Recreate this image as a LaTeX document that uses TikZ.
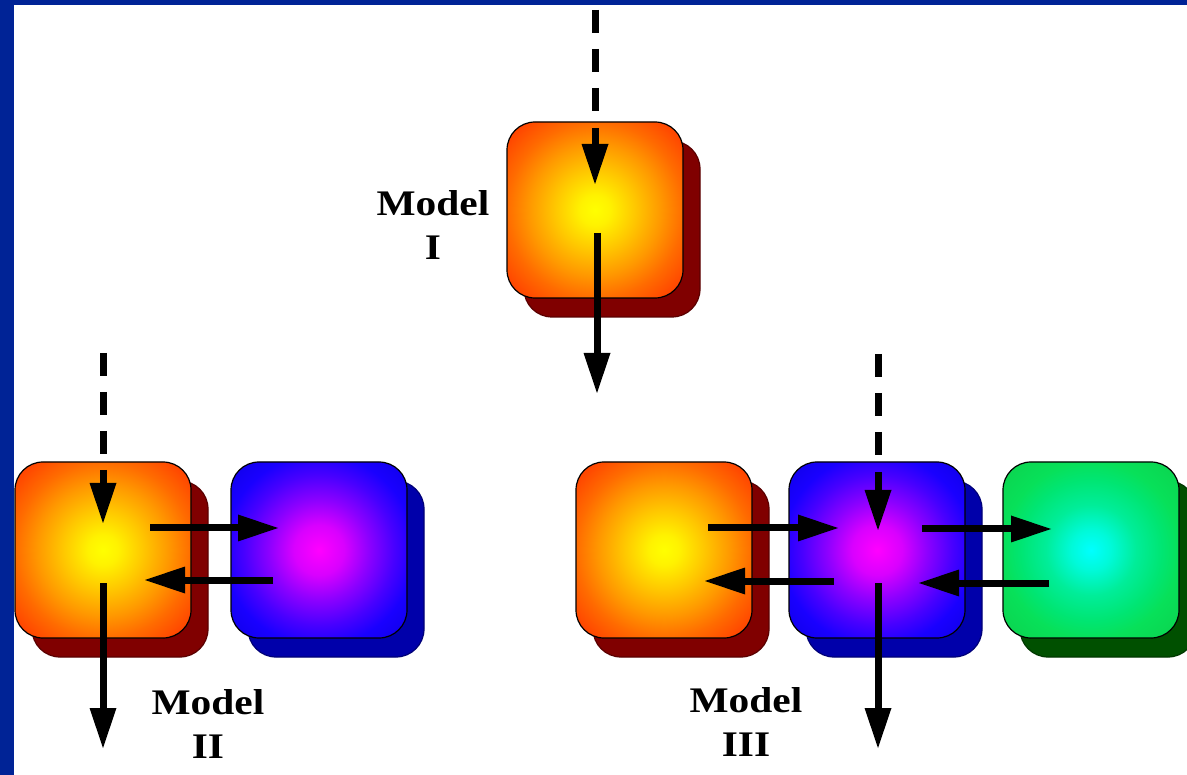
\documentclass[tikz,border=0pt]{standalone}
\usepackage{fontspec}
\newfontfamily\lblfont[FakeStretch=1.15]{Liberation Serif}
\usetikzlibrary{arrows.meta}
\definecolor{bordblue}{RGB}{0,35,150}
\definecolor{dred}{RGB}{128,0,0}
\definecolor{dblue}{RGB}{0,0,170}
\definecolor{dgreen}{RGB}{0,80,0}
\pgfdeclareradialshading{oglow}{\pgfpoint{0bp}{0bp}}{rgb(0bp)=(1,1,0); rgb(15bp)=(1,0.95,0); rgb(40bp)=(1,0.78,0); rgb(65bp)=(1,0.6,0); rgb(88bp)=(1,0.42,0); rgb(126bp)=(1,0.18,0)}
\pgfdeclareradialshading{bglow}{\pgfpoint{0bp}{0bp}}{rgb(0bp)=(1,0,1); rgb(25bp)=(0.85,0,1); rgb(50bp)=(0.55,0,1); rgb(75bp)=(0.28,0,1); rgb(95bp)=(0.1,0,1); rgb(126bp)=(0.05,0,0.9)}
\pgfdeclareradialshading{gglow}{\pgfpoint{0bp}{0bp}}{rgb(0bp)=(0,1,1); rgb(20bp)=(0,0.98,0.85); rgb(45bp)=(0,0.93,0.6); rgb(70bp)=(0,0.9,0.45); rgb(88bp)=(0.03,0.88,0.35); rgb(126bp)=(0.05,0.82,0.3)}
\newcommand\glowbox[5]{%
  \node[#5] (#1s) at (#2+17,#3+19) {};
  \begin{scope}
    \clip[rounded corners=28pt] (#2-88,#3-88) rectangle (#2+88,#3+88);
    \node[inner sep=0pt] (#1g) at (#2,#3) {\pgfuseshading{#4}};
  \end{scope}
  \node[box] (#1) at (#2,#3) {};
}
\begin{document}
\begin{tikzpicture}[x=1pt,y=-1pt,
  box/.style={minimum width=176pt,minimum height=176pt,rounded corners=28pt,inner sep=0pt,draw=black,line width=1.2pt},
  oshad/.style={box,fill=dred,draw=dred!70!black},
  bshad/.style={box,fill=dblue,draw=dblue!70!black},
  gshad/.style={box,fill=dgreen,draw=dgreen!70!black},
  flow/.style={line width=7pt,-{Triangle[width=27pt,length=40pt,line width=0pt]}},
  dashln/.style={line width=7pt,dash pattern=on 23pt off 16pt},
  lbl/.style={align=center,inner sep=0pt,font=\lblfont\bfseries\fontsize{36}{44}\selectfont}]
\useasboundingbox (0,0) rectangle (1187,775);
\fill[white] (0,0) rectangle (1187,775);
\fill[bordblue] (0,0) rectangle (1187,5);
\fill[bordblue] (0,0) rectangle (14,775);

% Model I
\glowbox{m1}{595}{210}{oglow}{oshad}
\node[lbl] (l1) at (433,225) {Model\\I};

% Model II
\glowbox{m2o}{103}{550}{oglow}{oshad}
\glowbox{m2b}{319}{550}{bglow}{bshad}
\node[lbl] (l2) at (208,724) {Model\\II};

% Model III
\glowbox{m3o}{664}{550}{oglow}{oshad}
\glowbox{m3b}{877}{550}{bglow}{bshad}
\glowbox{m3g}{1091}{550}{gglow}{gshad}
\node[lbl] (l3) at (746,722) {Model\\III};

% coordinates
\coordinate (d1a) at (595,10);  \coordinate (d1b) at (595,113);
\coordinate (a1s) at (595,128); \coordinate (a1t) at (595,184);
\coordinate (a2s) at (597,233); \coordinate (a2t) at (597,393);

\coordinate (d2a) at (103,353); \coordinate (d2b) at (103,454);
\coordinate (b1s) at (103,470); \coordinate (b1t) at (103,523);
\coordinate (b2s) at (103,583); \coordinate (b2t) at (103,748);
\coordinate (b3s) at (150,528); \coordinate (b3t) at (278,528);
\coordinate (b4s) at (273,580); \coordinate (b4t) at (145,580);

\coordinate (d3a) at (878,354); \coordinate (d3b) at (878,457);
\coordinate (c1s) at (878,472); \coordinate (c1t) at (878,530);
\coordinate (c2s) at (878,583); \coordinate (c2t) at (878,748);
\coordinate (c3s) at (708,528); \coordinate (c3t) at (838,528);
\coordinate (c4s) at (834,581); \coordinate (c4t) at (705,581);
\coordinate (c5s) at (922,529); \coordinate (c5t) at (1051,529);
\coordinate (c6s) at (1049,583); \coordinate (c6t) at (919,583);

\draw[dashln] (d1a) -- (d1b);
\draw[flow] (a1s) -- (a1t);
\draw[flow] (a2s) -- (a2t);

\draw[dashln] (d2a) -- (d2b);
\draw[flow] (b1s) -- (b1t);
\draw[flow] (b2s) -- (b2t);
\draw[flow] (b3s) -- (b3t);
\draw[flow] (b4s) -- (b4t);

\draw[dashln] (d3a) -- (d3b);
\draw[flow] (c1s) -- (c1t);
\draw[flow] (c2s) -- (c2t);
\draw[flow] (c3s) -- (c3t);
\draw[flow] (c4s) -- (c4t);
\draw[flow] (c5s) -- (c5t);
\draw[flow] (c6s) -- (c6t);
\end{tikzpicture}
\end{document}
